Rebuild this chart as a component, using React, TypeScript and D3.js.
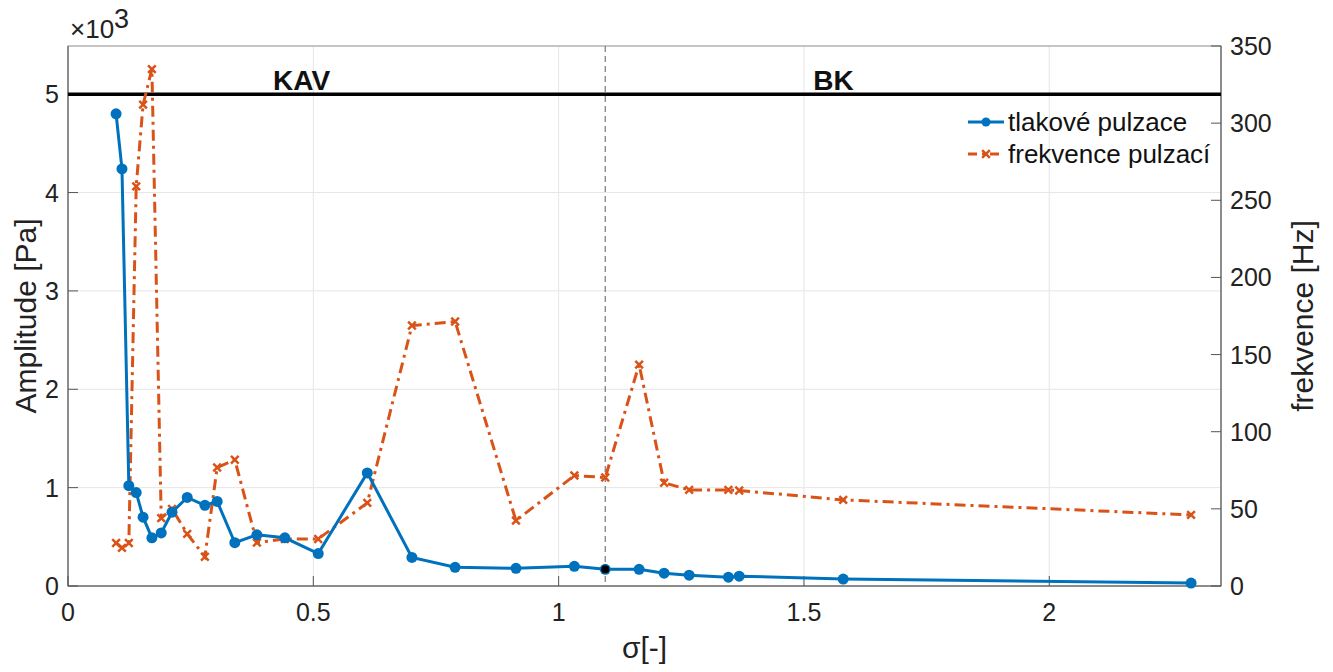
import React, { useEffect, useRef } from "react";
import * as d3 from "d3";

// sigma values (shared by both series)
const sigma = [0.098, 0.110, 0.124, 0.139, 0.153, 0.171, 0.190, 0.212, 0.243, 0.279, 0.304, 0.340, 0.385, 0.442, 0.510, 0.610, 0.701, 0.789, 0.913, 1.032, 1.095, 1.164, 1.215, 1.266, 1.346, 1.368, 1.580, 2.289];
// amplitude in thousands of Pa
const amplitude = [4.80, 4.24, 1.02, 0.95, 0.70, 0.49, 0.54, 0.75, 0.90, 0.82, 0.86, 0.44, 0.52, 0.49, 0.33, 1.15, 0.29, 0.19, 0.18, 0.20, 0.17, 0.17, 0.13, 0.11, 0.09, 0.10, 0.07, 0.03];
// frequency in Hz
const frequency = [27.9, 24.7, 27.9, 259, 312, 335, 44, 50, 33.8, 19, 76.8, 81.8, 28.1, 30.5, 30.5, 53.9, 168.8, 171.4, 42.4, 71.6, 70.3, 143.5, 66.9, 62.3, 62.3, 61.9, 55.8, 46.1];

const xTicks = [0, 0.5, 1, 1.5, 2];
const xTickLabels = ["0", "0.5", "1", "1.5", "2"];
const leftTicks = [0, 1, 2, 3, 4, 5];
const rightTicks = [0, 50, 100, 150, 200, 250, 300, 350];
const boundarySigma = 1.095;
const limitLine = 5;
const regionLabels = [{ text: "KAV", x: 0.476 }, { text: "BK", x: 1.56 }];
const legendItems = ["tlakové pulzace", "frekvence pulzací"];

const BLUE = "#0072BD";
const ORANGE = "#D95319";
const FONT = "'Liberation Sans', Arial, sans-serif";

export default function App() {
  const ref = useRef<SVGSVGElement>(null);

  useEffect(() => {
    const W = 1333, H = 672;
    const m = { l: 68, r: 112, t: 46, b: 86 };
    const svg = d3.select(ref.current);
    svg.selectAll("*").remove();

    const x = d3.scaleLinear().domain([0, 2.35]).range([m.l, W - m.r]);
    const yL = d3.scaleLinear().domain([0, 5.49]).range([H - m.b, m.t]);
    const yR = d3.scaleLinear().domain([0, 350]).range([H - m.b, m.t]);
    const x0 = m.l, x1 = W - m.r, y0 = H - m.b, y1 = m.t;

    const g = svg.append("g");

    // grid
    g.selectAll(".gx").data(xTicks.slice(1)).join("line")
      .attr("x1", d => x(d)).attr("x2", d => x(d)).attr("y1", y0).attr("y2", y1)
      .attr("stroke", "#e6e6e6").attr("stroke-width", 1);
    g.selectAll(".gy").data(leftTicks.slice(1)).join("line")
      .attr("x1", x0).attr("x2", x1).attr("y1", d => yL(d)).attr("y2", d => yL(d))
      .attr("stroke", "#e6e6e6").attr("stroke-width", 1);

    // axes box
    g.append("rect").attr("x", x0).attr("y", y1).attr("width", x1 - x0).attr("height", y0 - y1)
      .attr("fill", "none").attr("stroke", "#8c8c8c").attr("stroke-width", 1);
    g.append("line").attr("x1", x0).attr("x2", x1).attr("y1", y0).attr("y2", y0).attr("stroke", "#555");
    g.append("line").attr("x1", x0).attr("x2", x0).attr("y1", y0).attr("y2", y1).attr("stroke", "#555");
    g.append("line").attr("x1", x1).attr("x2", x1).attr("y1", y0).attr("y2", y1).attr("stroke", "#555");

    // ticks (inside)
    g.selectAll(".tx").data(xTicks).join("line")
      .attr("x1", d => x(d)).attr("x2", d => x(d)).attr("y1", y0).attr("y2", y0 - 10).attr("stroke", "#555");
    g.selectAll(".tl").data(leftTicks).join("line")
      .attr("x1", x0).attr("x2", x0 + 10).attr("y1", d => yL(d)).attr("y2", d => yL(d)).attr("stroke", "#555");
    g.selectAll(".tr").data(rightTicks).join("line")
      .attr("x1", x1).attr("x2", x1 - 10).attr("y1", d => yR(d)).attr("y2", d => yR(d)).attr("stroke", "#555");

    // tick labels
    g.selectAll(".lx").data(xTicks).join("text")
      .attr("x", d => x(d)).attr("y", y0 + 35).attr("text-anchor", "middle")
      .attr("font-family", FONT).attr("font-size", 25).attr("fill", "#222")
      .text((d, i) => xTickLabels[i]);
    g.selectAll(".ll").data(leftTicks).join("text")
      .attr("x", x0 - 9).attr("y", d => yL(d) + 9).attr("text-anchor", "end")
      .attr("font-family", FONT).attr("font-size", 25).attr("fill", "#222")
      .text(d => String(d));
    g.selectAll(".lr").data(rightTicks).join("text")
      .attr("x", x1 + 9).attr("y", d => yR(d) + 9).attr("text-anchor", "start")
      .attr("font-family", FONT).attr("font-size", 25).attr("fill", "#222")
      .text(d => String(d));

    // exponent
    const ex = g.append("text").attr("x", x0 + 2).attr("y", 38)
      .attr("font-family", FONT).attr("font-size", 26).attr("fill", "#222");
    ex.append("tspan").text("×10");
    ex.append("tspan").attr("dy", -10).attr("font-size", 27).text("3");

    // axis labels
    g.append("text").attr("transform", `translate(36,${(y0 + y1) / 2}) rotate(-90)`)
      .attr("text-anchor", "middle").attr("font-family", FONT).attr("font-size", 30).attr("fill", "#222")
      .text("Amplitude [Pa]");
    g.append("text").attr("transform", `translate(1313,${(y0 + y1) / 2}) rotate(-90)`)
      .attr("text-anchor", "middle").attr("font-family", FONT).attr("font-size", 30).attr("fill", "#222")
      .text("frekvence [Hz]");
    g.append("text").attr("x", (x0 + x1) / 2).attr("y", y0 + 72).attr("text-anchor", "middle")
      .attr("font-family", FONT).attr("font-size", 30).attr("fill", "#222")
      .text("σ[-]");

    // limit line & boundary
    g.append("line").attr("x1", x0).attr("x2", x1).attr("y1", yL(limitLine)).attr("y2", yL(limitLine))
      .attr("stroke", "#000").attr("stroke-width", 3.5);
    g.append("line").attr("x1", x(boundarySigma)).attr("x2", x(boundarySigma)).attr("y1", y1).attr("y2", y0)
      .attr("stroke", "#777").attr("stroke-width", 1.2).attr("stroke-dasharray", "6,4");
    g.selectAll(".reg").data(regionLabels).join("text")
      .attr("x", d => x(d.x)).attr("y", 90).attr("text-anchor", "middle")
      .attr("font-family", FONT).attr("font-size", 28).attr("font-weight", "bold").attr("fill", "#111")
      .text(d => d.text);

    const ampData = sigma.map((s, i) => [s, amplitude[i]] as [number, number]);
    const frqData = sigma.map((s, i) => [s, frequency[i]] as [number, number]);

    // frequency series
    g.append("path").datum(frqData)
      .attr("d", d3.line<[number, number]>().x(d => x(d[0])).y(d => yR(d[1])))
      .attr("fill", "none").attr("stroke", ORANGE).attr("stroke-width", 3)
      .attr("stroke-dasharray", "11,5,3,5");
    const cross = d3.symbol().type(d3.symbolX).size(40);
    g.selectAll(".mx").data(frqData).join("path")
      .attr("d", cross)
      .attr("transform", d => `translate(${x(d[0])},${yR(d[1])})`)
      .attr("fill", "none").attr("stroke", ORANGE).attr("stroke-width", 2.5);

    // amplitude series
    g.append("path").datum(ampData)
      .attr("d", d3.line<[number, number]>().x(d => x(d[0])).y(d => yL(d[1])))
      .attr("fill", "none").attr("stroke", BLUE).attr("stroke-width", 3);
    g.selectAll(".mc").data(ampData).join("circle")
      .attr("cx", d => x(d[0])).attr("cy", d => yL(d[1])).attr("r", 5.5)
      .attr("fill", BLUE);
    const bIdx = sigma.indexOf(boundarySigma);
    g.append("circle").attr("cx", x(boundarySigma)).attr("cy", yL(amplitude[bIdx])).attr("r", 4)
      .attr("fill", "#000");

    // legend
    const lg = g.append("g").attr("transform", "translate(968,122)");
    legendItems.forEach((name, i) => {
      const row = lg.append("g").attr("transform", `translate(0,${i * 32})`);
      const c = i === 0 ? BLUE : ORANGE;
      row.append("line").attr("x1", 0).attr("x2", 36).attr("y1", 0).attr("y2", 0)
        .attr("stroke", c).attr("stroke-width", 3)
        .attr("stroke-dasharray", i === 0 ? null : "9,5,3,5");
      if (i === 0) row.append("circle").attr("cx", 18).attr("cy", 0).attr("r", 4.5).attr("fill", c);
      else row.append("path").attr("d", cross).attr("transform", "translate(18,0)")
        .attr("fill", "none").attr("stroke", c).attr("stroke-width", 2.5);
      row.append("text").attr("x", 40).attr("y", 9).attr("font-family", FONT).attr("font-size", 26)
        .attr("fill", "#111").text(name);
    });
  }, []);

  return (
    <svg ref={ref} width={1333} height={672}
      style={{ position: "absolute", left: 0, top: 0, background: "#fff" }} />
  );
}
